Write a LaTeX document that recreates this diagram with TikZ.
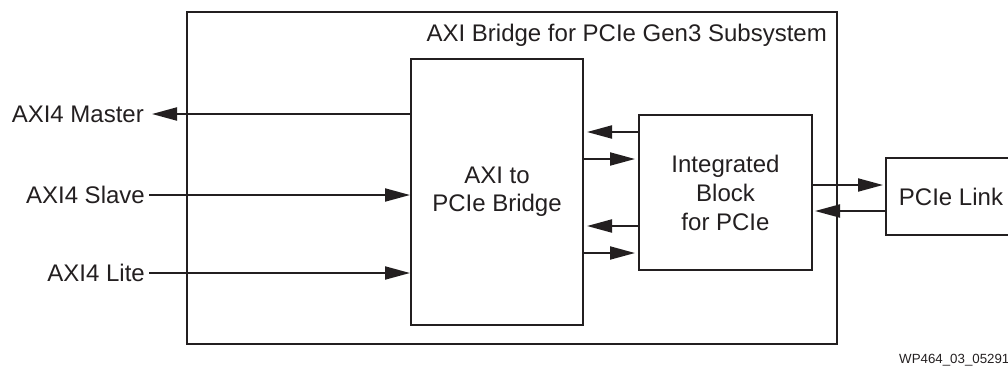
\documentclass[tikz,border=0pt]{standalone}
\usepackage{fontspec}
\setmainfont{Liberation Sans}
\usetikzlibrary{arrows.meta,calc}
\definecolor{ink}{HTML}{231F20}
\begin{document}
\begin{tikzpicture}[x=1pt,y=-1pt,
  box/.style={draw=ink, line width=2pt, inner sep=0pt, text=ink,
    font=\fontsize{24}{28}\selectfont, align=center},
  lbl/.style={text=ink, inner sep=0pt, font=\fontsize{24}{28}\selectfont},
  sig/.style={draw=ink, line width=2pt, -{Triangle[length=25pt,width=13pt]}},
]
\useasboundingbox (0,0) rectangle (1008,370);

% subsystem frame and its blocks
\node[box, minimum width=650pt, minimum height=332pt] (outer) at (512,178) {};
\node[lbl, anchor=base east] (title) at (827,41) {AXI Bridge for PCIe Gen3 Subsystem};
\node[box, minimum width=172pt, minimum height=266pt] (bridge) at (497,192)
  {AXI to\\PCIe Bridge};
\node[box, minimum width=173pt, minimum height=155pt] (ib) at (725.5,192.5)
  {Integrated\\[1pt]Block\\[1pt]for PCIe};
\node[box, minimum width=130pt, minimum height=77pt] (link) at (951,196.5) {PCIe Link};

% AXI4 interfaces
\node[lbl, anchor=east] (mst) at (144,114) {AXI4 Master};
\node[lbl, anchor=east] (slv) at (145,195) {AXI4 Slave};
\node[lbl, anchor=east] (lite) at (145,273) {AXI4 Lite};

\draw[sig] (bridge.west |- mst) -- ([xshift=8pt]mst.east);
\draw[sig] ([xshift=4pt]slv.east) -- (bridge.west |- slv);
\draw[sig] ([xshift=4pt]lite.east) -- (bridge.west |- lite);

% links between the bridge and the integrated block
\coordinate (p1) at ([yshift=-18pt]ib.north west);
\coordinate (p2) at ([yshift=-45pt]ib.north west);
\coordinate (p3) at ([yshift=-112pt]ib.north west);
\coordinate (p4) at ([yshift=-139pt]ib.north west);
\draw[sig, shorten >=3pt] (p1) -- (bridge.east |- p1);
\draw[sig, shorten >=3pt] (bridge.east |- p2) -- (p2);
\draw[sig, shorten >=3pt] (p3) -- (bridge.east |- p3);
\draw[sig, shorten >=3pt] (bridge.east |- p4) -- (p4);

% links between the integrated block and the PCIe link
\coordinate (q1) at ([yshift=-28pt]link.north west);
\coordinate (q2) at ([yshift=-54pt]link.north west);
\draw[sig, shorten >=2pt] (ib.east |- q1) -- (q1);
\draw[sig, shorten >=2pt] (q2) -- (ib.east |- q2);

\node[anchor=base west, inner sep=0pt, text=ink, font=\fontsize{13.3}{15}\selectfont]
  (fig) at (899,363) {WP464\_03\_052915};
\end{tikzpicture}
\end{document}
